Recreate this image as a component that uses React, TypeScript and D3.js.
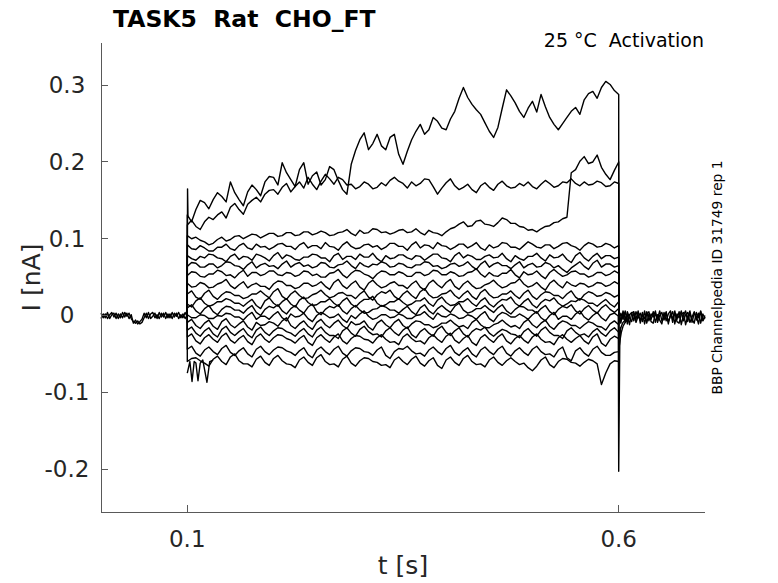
import * as d3 from "d3";

// sample times (s)
const STEP_T = [
  0.1, 0.105, 0.11, 0.115, 0.12, 0.125, 0.13, 0.135, 0.14, 0.145,
  0.15, 0.155, 0.16, 0.165, 0.17, 0.175, 0.18, 0.185, 0.19, 0.195,
  0.2, 0.205, 0.21, 0.215, 0.22, 0.225, 0.23, 0.235, 0.24, 0.245,
  0.25, 0.255, 0.26, 0.265, 0.27, 0.275, 0.28, 0.285, 0.29, 0.295,
  0.3, 0.305, 0.31, 0.315, 0.32, 0.325, 0.33, 0.335, 0.34, 0.345,
  0.35, 0.355, 0.36, 0.365, 0.37, 0.375, 0.38, 0.385, 0.39, 0.395,
  0.4, 0.405, 0.41, 0.415, 0.42, 0.425, 0.43, 0.435, 0.44, 0.445,
  0.45, 0.455, 0.46, 0.465, 0.47, 0.475, 0.48, 0.485, 0.49, 0.495,
  0.5, 0.505, 0.51, 0.515, 0.52, 0.525, 0.53, 0.535, 0.54, 0.545,
  0.55, 0.555, 0.56, 0.565, 0.57, 0.575, 0.58, 0.585, 0.59, 0.595,
  0.6,
];
const PRE_T = [
  0, 0.0025, 0.005, 0.0075, 0.01, 0.0125, 0.015, 0.0175, 0.02, 0.0225,
  0.025, 0.0275, 0.03, 0.0325, 0.035, 0.0375, 0.04, 0.0425, 0.045, 0.0475,
  0.05, 0.0525, 0.055, 0.0575, 0.06, 0.0625, 0.065, 0.0675, 0.07, 0.0725,
  0.075, 0.0775, 0.08, 0.0825, 0.085, 0.0875, 0.09, 0.0925, 0.095, 0.0975, 0.1,
];
const POST_T = [
  0.6, 0.6025, 0.605, 0.6075, 0.61, 0.6125, 0.615, 0.6175, 0.62, 0.6225,
  0.625, 0.6275, 0.63, 0.6325, 0.635, 0.6375, 0.64, 0.6425, 0.645, 0.6475,
  0.65, 0.6525, 0.655, 0.6575, 0.66, 0.6625, 0.665, 0.6675, 0.67, 0.6725,
  0.675, 0.6775, 0.68, 0.6825, 0.685, 0.6875, 0.69, 0.6925, 0.695, 0.6975, 0.7,
];

// currents in pA
const TRACE_A = [
  131, 122, 138, 150, 147, 139, 151, 160, 155, 148, 174, 160, 151, 143, 161, 170, 164, 156, 174, 181,
  180, 170, 199, 186, 177, 168, 190, 199, 171, 182, 187, 170, 177, 194, 190, 176, 164, 158, 197, 215,
  229, 238, 216, 224, 236, 221, 216, 232, 236, 210, 197, 214, 229, 240, 249, 236, 242, 258, 253, 244,
  242, 256, 266, 283, 297, 284, 275, 268, 262, 251, 240, 232, 245, 270, 294, 286, 277, 266, 258, 270,
  279, 265, 288, 272, 258, 249, 242, 250, 258, 266, 271, 262, 281, 289, 292, 283, 297, 305, 301, 293,
  288,
];
const TRACE_B = [
  118, 124, 116, 112, 122, 128, 125, 131, 135, 127, 141, 146, 138, 132, 145, 150, 154, 148, 158, 163,
  164, 158, 167, 172, 161, 168, 174, 166, 180, 171, 164, 175, 184, 178, 171, 180, 177, 170, 171, 165,
  168, 174, 171, 165, 167, 173, 169, 176, 180, 175, 172, 166, 174, 169, 172, 178, 177, 168, 158, 166,
  173, 178, 169, 164, 167, 171, 164, 160, 169, 173, 167, 163, 171, 175, 169, 166, 167, 172, 169, 174,
  168, 165, 171, 176, 172, 167, 169, 174, 173, 178, 172, 169, 174, 170, 171, 175, 173, 168, 169, 174,
  172,
];
const TRACE_C = [
  104, 100, 102, 98, 96, 92, 94, 99, 102, 97, 99, 103, 104, 100, 103, 106, 105, 101, 104, 107,
  107, 103, 104, 108, 108, 104, 105, 109, 109, 105, 107, 110, 108, 104, 105, 108, 109, 112, 107, 104,
  111, 107, 108, 113, 112, 108, 109, 106, 108, 111, 112, 108, 109, 113, 108, 105, 111, 108, 107, 104,
  109, 113, 115, 119, 122, 116, 117, 123, 124, 119, 118, 116, 121, 127, 125, 120, 120, 116, 115, 111,
  112, 109, 113, 116, 117, 121, 122, 126, 128, 186, 190, 201, 207, 198, 200, 209, 193, 184, 177, 189,
  200,
];
const TRACE_D = [
  92, 87, 86, 91, 88, 84, 84, 89, 89, 93, 87, 85, 91, 94, 88, 86, 93, 89, 90, 86,
  89, 93, 94, 90, 90, 86, 92, 95, 88, 91, 91, 87, 95, 90, 89, 85, 92, 96, 90, 87,
  88, 92, 93, 89, 91, 86, 89, 94, 94, 90, 90, 85, 92, 96, 88, 92, 91, 87, 95, 91,
  90, 86, 89, 93, 93, 88, 91, 95, 88, 85, 92, 88, 90, 95, 94, 89, 89, 86, 91, 96,
  93, 89, 88, 92, 92, 87, 90, 94, 95, 91, 89, 85, 91, 95, 93, 89, 90, 94, 92, 88,
  91,
];
const TRACE_E = [
  78, 74, 72, 77, 75, 80, 79, 75, 74, 70, 77, 80, 73, 77, 76, 72, 80, 78, 75, 71,
  78, 82, 74, 79, 77, 73, 72, 76, 76, 80, 79, 75, 75, 70, 78, 81, 73, 77, 77, 73,
  80, 76, 76, 81, 74, 70, 78, 74, 75, 79, 79, 75, 73, 78, 77, 72, 76, 80, 80, 75,
  74, 70, 78, 82, 75, 79, 77, 73, 73, 77, 79, 75, 76, 81, 74, 70, 78, 74, 72, 77,
  77, 81, 75, 71, 79, 75, 76, 80, 73, 69, 78, 82, 75, 71, 77, 81, 74, 78, 78, 74,
  76,
];
const TRACE_F = [
  64, 69, 68, 63, 63, 67, 67, 62, 65, 70, 69, 65, 64, 60, 66, 70, 62, 66, 68, 64,
  65, 61, 67, 71, 63, 67, 69, 64, 66, 62, 64, 69, 68, 63, 62, 66, 67, 71, 65, 61,
  69, 65, 63, 67, 66, 70, 68, 63, 64, 68, 67, 63, 62, 66, 66, 70, 69, 64, 65, 61,
  63, 67, 68, 64, 66, 70, 64, 60, 67, 71, 63, 67, 69, 65, 65, 61, 66, 70, 62, 66,
  68, 63, 64, 69, 67, 62, 65, 60, 56, 62, 66, 70, 64, 60, 68, 72, 63, 67, 67, 63,
  65,
];
const TRACE_G = [
  52, 57, 56, 51, 50, 54, 54, 59, 57, 52, 53, 49, 55, 59, 51, 56, 56, 52, 54, 58,
  58, 53, 52, 56, 55, 51, 53, 58, 57, 52, 54, 50, 50, 55, 56, 60, 53, 49, 55, 59,
  58, 54, 52, 48, 54, 58, 57, 53, 53, 57, 55, 51, 51, 56, 56, 52, 54, 59, 58, 53,
  53, 57, 55, 51, 52, 56, 57, 61, 54, 50, 56, 52, 51, 55, 55, 60, 53, 49, 57, 53,
  54, 58, 52, 48, 56, 60, 55, 51, 53, 57, 58, 54, 54, 50, 52, 56, 56, 52, 54, 58,
  55,
];
const TRACE_H = [
  42, 37, 38, 43, 41, 36, 37, 41, 43, 47, 39, 35, 40, 44, 36, 40, 42, 38, 38, 34,
  41, 45, 44, 39, 39, 35, 37, 42, 42, 38, 40, 44, 38, 34, 43, 47, 39, 35, 41, 45,
  37, 33, 42, 46, 40, 36, 38, 42, 44, 39, 39, 35, 41, 45, 37, 33, 42, 46, 40, 36,
  43, 47, 38, 34, 41, 45, 39, 35, 36, 40, 42, 46, 40, 36, 38, 42, 43, 48, 41, 37,
  39, 43, 37, 33, 42, 46, 40, 36, 44, 40, 38, 42, 41, 37, 39, 43, 42, 38, 40, 44,
  41,
];
const TRACE_I = [
  28, 32, 24, 21, 29, 33, 25, 21, 27, 31, 30, 26, 26, 22, 24, 28, 28, 32, 27, 23,
  31, 35, 25, 21, 28, 32, 26, 22, 23, 27, 29, 33, 27, 23, 25, 29, 30, 26, 26, 22,
  28, 32, 24, 20, 27, 31, 29, 33, 25, 21, 28, 32, 26, 22, 31, 35, 27, 23, 24, 28,
  29, 33, 26, 22, 28, 32, 25, 21, 30, 34, 27, 23, 24, 28, 28, 32, 26, 22, 29, 33,
  25, 21, 27, 31, 30, 26, 26, 22, 28, 32, 24, 20, 27, 31, 29, 25, 26, 30, 28, 24,
  27,
];
const TRACE_J = [
  15, 11, 19, 23, 16, 12, 14, 18, 18, 22, 20, 16, 16, 12, 17, 21, 13, 9, 19, 23,
  16, 12, 18, 22, 15, 11, 20, 24, 17, 13, 14, 18, 18, 22, 16, 12, 19, 23, 15, 11,
  17, 21, 21, 25, 16, 12, 14, 18, 18, 22, 17, 13, 15, 19, 19, 23, 16, 12, 20, 24,
  17, 13, 14, 18, 18, 22, 16, 12, 19, 23, 15, 11, 17, 21, 20, 24, 16, 12, 18, 22,
  14, 10, 17, 21, 19, 23, 16, 12, 15, 19, 18, 22, 20, 16, 16, 12, 17, 21, 15, 11,
  18,
];
const TRACE_K = [
  10, 14, 6, 2, 9, 13, 5, 1, 8, 12, 11, 7, 7, 3, 9, 13, 4, 0, 8, 12,
  10, 14, 6, 2, 9, 13, 7, 3, 11, 15, 5, 1, 8, 12, 10, 14, 6, 2, 9, 13,
  7, 3, 4, 8, 9, 13, 11, 7, 7, 3, 8, 12, 5, 1, 10, 14, 6, 2, 9, 13,
  8, 4, 12, 16, 7, 3, 5, 9, 9, 13, 8, 4, 10, 14, 6, 2, 8, 12, 11, 7,
  7, 3, 9, 13, 5, 1, 8, 12, 10, 14, 6, 2, 9, 13, 7, 3, 10, 14, 8, 4,
  9,
];
const TRACE_L = [
  1, -3, -3, 1, 0, -4, -4, 0, -1, 3, 2, -2, -2, -6, 0, 4, -5, -1, -1, -5,
  1, 5, -3, -7, 2, -2, -1, 3, -4, -8, 0, 4, 1, -3, -2, 2, -5, -9, 0, -4,
  2, 6, -1, -5, -3, 1, 1, -3, -2, 2, 0, -4, -4, 0, 1, 5, -1, -5, 3, -1,
  -2, 2, 0, -4, -3, 1, -1, -5, 1, 5, -4, -8, 0, 4, 2, -2, -2, 2, -1, -5,
  1, 5, -3, -7, 0, 4, -5, -1, -1, -5, 2, 6, -2, -6, 0, 4, -3, -7, 1, 3,
  -1,
];
const TRACE_M = [
  -9, -5, -13, -17, -10, -6, -14, -18, -8, -4, -12, -16, -11, -7, -15, -19, -9, -13, -12, -8,
  -10, -14, -7, -3, -13, -17, -11, -7, -14, -18, -9, -5, -12, -16, -10, -6, -13, -17, -8, -12,
  -11, -7, -15, -19, -10, -6, -12, -16, -9, -5, -13, -17, -11, -7, -8, -12, -12, -16, -14, -10,
  -10, -6, -11, -15, -13, -17, -9, -5, -12, -16, -16, -12, -10, -6, -11, -15, -13, -17, -9, -5,
  -12, -16, -10, -6, -14, -18, -11, -7, -9, -13, -13, -17, -12, -8, -10, -14, -15, -19, -11, -7,
  -12,
];
const TRACE_N = [
  -19, -15, -23, -27, -20, -16, -24, -28, -18, -14, -22, -26, -21, -17, -25, -29, -19, -15, -22, -26,
  -20, -16, -17, -21, -23, -27, -21, -17, -24, -28, -19, -15, -22, -26, -26, -30, -20, -16, -23, -27,
  -18, -14, -21, -25, -24, -28, -20, -16, -22, -26, -19, -15, -25, -29, -21, -17, -23, -27, -18, -14,
  -22, -26, -20, -16, -24, -28, -21, -17, -19, -15, -23, -27, -22, -18, -20, -24, -25, -29, -21, -17,
  -23, -27, -19, -15, -22, -26, -26, -30, -20, -16, -22, -26, -24, -28, -21, -17, -23, -27, -20, -16,
  -22,
];
const TRACE_O = [
  -28, -24, -33, -37, -29, -25, -31, -35, -27, -23, -32, -36, -30, -26, -34, -38, -28, -24, -31, -35,
  -29, -25, -26, -30, -32, -36, -30, -26, -35, -39, -29, -25, -31, -35, -28, -24, -33, -37, -30, -26,
  -27, -31, -32, -36, -29, -25, -31, -35, -34, -38, -28, -24, -30, -34, -33, -37, -29, -25, -31, -35,
  -27, -23, -32, -36, -30, -26, -35, -39, -29, -25, -31, -35, -28, -24, -33, -37, -30, -26, -32, -36,
  -28, -24, -31, -35, -34, -38, -29, -25, -31, -35, -30, -26, -33, -37, -28, -24, -36, -40, -31, -27,
  -30,
];
const TRACE_P = [
  -44, -40, -49, -53, -45, -41, -47, -51, -43, -39, -48, -52, -46, -42, -50, -54, -44, -40, -47, -51,
  -45, -41, -42, -46, -48, -52, -46, -42, -51, -55, -45, -41, -47, -51, -44, -40, -49, -53, -46, -42,
  -43, -47, -48, -52, -45, -41, -52, -56, -47, -43, -44, -40, -46, -50, -49, -53, -45, -41, -47, -51,
  -43, -39, -48, -52, -46, -42, -50, -54, -45, -41, -47, -51, -44, -40, -49, -53, -46, -42, -48, -52,
  -44, -40, -47, -51, -50, -54, -45, -41, -55, -59, -46, -42, -49, -53, -44, -40, -48, -52, -52, -48,
  -47,
];
const TRACE_Q = [
  -60, -56, -55, -59, -62, -66, -57, -53, -60, -64, -54, -50, -59, -63, -63, -67, -57, -53, -61, -65,
  -56, -52, -59, -63, -64, -68, -58, -54, -61, -65, -55, -51, -60, -64, -63, -67, -57, -53, -62, -66,
  -59, -55, -56, -60, -61, -65, -64, -68, -58, -54, -60, -64, -57, -53, -62, -66, -59, -55, -65, -69,
  -58, -54, -61, -65, -56, -52, -60, -64, -63, -67, -58, -54, -61, -65, -59, -55, -60, -64, -62, -68,
  -72, -66, -58, -54, -64, -68, -60, -56, -57, -61, -62, -66, -61, -57, -59, -63, -90, -75, -63, -59,
  -60,
];
const STEP_TRACES = [
  TRACE_A, TRACE_B, TRACE_C, TRACE_D, TRACE_E, TRACE_F, TRACE_G, TRACE_H, TRACE_I,
  TRACE_J, TRACE_K, TRACE_L, TRACE_M, TRACE_N, TRACE_O, TRACE_P, TRACE_Q,
];

// holding current before / after the step
const PRE_1 = [
  3, -3, 2, -4, 1, 4, -2, 3, -4, 2, -3, 4, -1, 3, -4, -8, -10, -7, -11, -9,
  -3, 3, -4, 2, 4, -3, 1, -4, 3, -2, 4, -3, 2, -4, 3, -1, 4, -3, 2, -4, 1,
];
const PRE_2 = [
  -4, 2, -3, 4, -4, 1, 3, -4, 2, -3, 4, -2, 3, -4, 1, -10, -6, -11, -8, -5,
  3, -3, 4, -4, -1, 3, -4, 4, -2, 3, -4, 2, -3, 4, -2, 3, -4, 1, -3, 4, -2,
];
const POST_1 = [
  4, -6, 2, -9, 5, -3, -8, 3, -5, 6, -10, 1, -4, 5, -7, 2, -2, 6, -9, 0,
  4, -6, 3, -8, -1, 5, -11, 2, -3, 6, -7, 1, 4, -9, -2, 5, -6, 3, -10, 2, -4,
];
const POST_2 = [
  -9, 3, -5, 6, -11, 1, 4, -7, 5, -2, 3, -8, 6, -10, 2, -5, 5, -9, 1, -6,
  -11, 4, -7, 2, 6, -9, 3, -5, 5, -12, 0, 6, -8, 3, -5, -10, 4, -3, 6, -7, -2,
];
const POST_3 = [
  -2, -10, 6, -4, 1, -12, 3, 5, -9, -1, -6, 4, -11, 2, 5, -8, -10, 3, -4, 6,
  -7, -2, 5, -11, 2, -4, 6, -8, -10, 1, 4, -12, -1, 6, -9, 3, -1, -11, 5, -6, 0,
];

// capacitive transients
const ON_SPIKE_T = [0.1, 0.1003, 0.1008];
const ON_SPIKE = [0, 165, 130];
const ON_RING_T = [0.1, 0.103, 0.1055, 0.108, 0.11, 0.1124, 0.115, 0.118, 0.1228, 0.126, 0.13];
const ON_RING = [-75, -60, -86, -60, -62, -85, -62, -58, -87, -60, -58];
const OFF_SPIKE_T = [0.5995, 0.6, 0.6006, 0.6012, 0.602];
const OFF_SPIKE = [0, -203, -120, -40, -15];
const TAIL_T = [0.6, 0.6015, 0.603, 0.605, 0.608, 0.612];
const TAIL_1 = [-45, -32, -22, -14, -8, -4];
const TAIL_2 = [-28, -20, -14, -9, -5, -2];

const X_TICKS = [0.1, 0.6];
const Y_TICKS = [-0.2, -0.1, 0, 0.1, 0.2, 0.3];

const W = 778;
const H = 583;
const FONT = "DejaVu Sans, sans-serif";
const INK = "#262626";

export default function App() {
  const x = d3.scaleLinear().domain([0, 0.7]).range([101, 705]);
  const y = d3.scaleLinear().domain([-0.256, 0.355]).range([512, 43]);
  const line = d3
    .line<[number, number]>()
    .x((d) => x(d[0]))
    .y((d) => y(d[1] / 1000));

  const zip = (ts: number[], vs: number[]) =>
    vs.slice(0, ts.length).map((v, i) => [ts[i], v] as [number, number]);

  const stepPath = (vs: number[]) =>
    line([[0.1, 0], ...zip(STEP_T, vs), [0.6, 0]]) || "";

  const extra: [number[], number[]][] = [
    [PRE_T, PRE_1],
    [PRE_T, PRE_2],
    [POST_T, POST_1],
    [POST_T, POST_2],
    [POST_T, POST_3],
    [ON_SPIKE_T, ON_SPIKE],
    [ON_RING_T, ON_RING],
    [OFF_SPIKE_T, OFF_SPIKE],
    [TAIL_T, TAIL_1],
    [TAIL_T, TAIL_2],
  ];

  const [x0, x1] = x.range();
  const [yb, yt] = y.range();

  return (
    <div style={{ position: "fixed", left: 0, top: 0 }}>
      <svg width={W} height={H} style={{ display: "block", background: "#fff" }}>
        <g fill="none" stroke="#000" strokeWidth={1.4} strokeLinejoin="round">
          {extra.map(([ts, vs], i) => (
            <path key={"e" + i} d={line(zip(ts, vs)) || ""} />
          ))}
          {STEP_TRACES.map((vs, i) => (
            <path key={"s" + i} d={stepPath(vs)} />
          ))}
        </g>

        {/* axes */}
        <g stroke="#595959" strokeWidth={1} fill="none" shapeRendering="crispEdges">
          <line x1={x0} y1={yt} x2={x0} y2={yb} />
          <line x1={x0} y1={yb} x2={x1} y2={yb} />
          {Y_TICKS.map((t) => (
            <line key={t} x1={x0} x2={x0 + 7} y1={y(t)} y2={y(t)} />
          ))}
          {X_TICKS.map((t) => (
            <line key={t} x1={x(t)} x2={x(t)} y1={yb} y2={yb - 7} />
          ))}
        </g>

        <g fontFamily={FONT} fill={INK}>
          {Y_TICKS.map((t) => (
            <text key={t} x={67} y={y(t) + 8} fontSize={23} textAnchor="middle">
              {String(t)}
            </text>
          ))}
          {X_TICKS.map((t) => (
            <text key={t} x={x(t)} y={547} fontSize={23} textAnchor="middle">
              {String(t)}
            </text>
          ))}
          <text x={(x0 + x1) / 2} y={574} fontSize={25} textAnchor="middle">
            t [s]
          </text>
          <text
            transform={`translate(40, ${(yb + yt) / 2}) rotate(-90)`}
            fontSize={25}
            textAnchor="middle"
          >
            I [nA]
          </text>
          <text x={113} y={27} fontSize={23.5} fontWeight="bold" fill="#000" style={{ whiteSpace: "pre" }}>
            {"TASK5  Rat  CHO_FT"}
          </text>
          <text x={704} y={47} fontSize={19} textAnchor="end" fill="#000" style={{ whiteSpace: "pre" }}>
            {"25 °C  Activation"}
          </text>
          <text
            transform={`translate(722, ${(yb + yt) / 2}) rotate(-90)`}
            fontSize={13.8}
            textAnchor="middle"
            fill="#000"
          >
            BBP Channelpedia ID 31749 rep 1
          </text>
        </g>
      </svg>
    </div>
  );
}
